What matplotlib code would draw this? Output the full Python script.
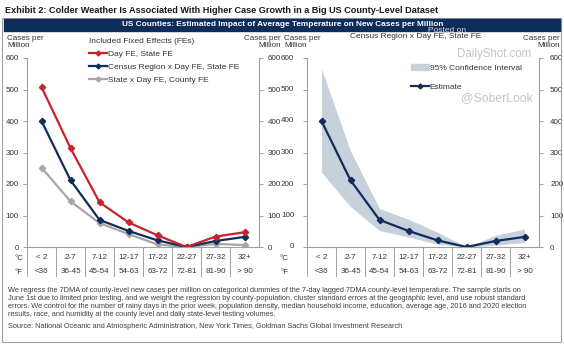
import matplotlib
matplotlib.use("Agg")
import matplotlib.pyplot as plt
from matplotlib import font_manager as fm
from matplotlib.lines import Line2D
from matplotlib.patches import Patch, Rectangle
import matplotlib.transforms as mtransforms

# temperature buckets
cat_c = ["< 2", "2-7", "7-12", "12-17", "17-22", "22-27", "27-32", "32+"]
cat_f = ["<36", "36-45", "45-54", "54-63", "63-72", "72-81", "81-90", "> 90"]

# estimated impact on new cases per million, by fixed-effect specification
day_state = [508, 314, 142, 78, 37, 0, 33, 47]
region_day_state = [400, 212, 86, 51, 21, 0, 19, 32]
state_day_county = [252, 145, 76, 41, 8, 0, 10, 6]

# census region x day FE, state FE: estimate with 95% CI
estimate = [400, 212, 86, 51, 21, 0, 19, 32]
ci_low = [237, 128, 52, 32, 9, 0, 6, 14]
ci_high = [565, 305, 122, 88, 47, 0, 37, 57]

yticks = [0, 100, 200, 300, 400, 500, 600]

RED = "#c8232c"
NAVY = "#0f2d58"
GREY = "#a6a6a6"
BAND = "#c6d1db"
AXC = "#a0a0a0"
TXT = "#333333"

names = {f.name for f in fm.fontManager.ttflist}
BASE = "Liberation Sans" if "Liberation Sans" in names else "DejaVu Sans"
NARROW = "Liberation Sans Narrow" if "Liberation Sans Narrow" in names else BASE
plt.rcParams["font.family"] = [BASE, "DejaVu Sans"]

W, H = 564, 347
fig = plt.figure(figsize=(W / 100, H / 100), dpi=100)


def fx(x):
    return x / W


def fy(y):
    return 1 - y / H


def fit(t, width):
    r = fig.canvas.get_renderer()
    bb = t.get_window_extent(r)
    t.set_fontsize(t.get_fontsize() * width / bb.width)


# outer frame and header
fig.patches.append(Rectangle((fx(2), fy(342)), fx(559), (342 - 18) / H,
                             transform=fig.transFigure, fill=False,
                             edgecolor=AXC, lw=0.8))
fig.patches.append(Rectangle((fx(4), fy(31)), fx(556), 12.5 / H,
                             transform=fig.transFigure, color="#0c2c5a"))
title = fig.text(fx(5), fy(10.5), "Exhibit 2: Colder Weather Is Associated With Higher "
                 "Case Growth in a Big US County-Level Dataset",
                 family=[NARROW, "DejaVu Sans"], weight="bold", fontsize=8,
                 color="#1a1a1a", va="center", ha="left")
fit(title, 432)
banner = fig.text(fx(283), fy(24.8), "US Counties: Estimated Impact of Average "
                  "Temperature on New Cases per Million",
                  family=[NARROW, "DejaVu Sans"], weight="bold", fontsize=6.5,
                  color="white", va="center", ha="center")
fit(banner, 320)

TICK = 5.8
ax1 = fig.add_axes([fx(27), fy(247), 232 / W, 189 / H])
ax2 = fig.add_axes([fx(307), fy(247), 232 / W, 189 / H])
x = list(range(len(cat_c)))

for ax in (ax1, ax2):
    ax.set_xlim(-0.5, 7.5)
    ax.set_ylim(0, 600)
    ax.set_yticks(yticks)
    ax.set_xticks([])
    ax.spines["top"].set_visible(False)
    for s in ("left", "right", "bottom"):
        ax.spines[s].set_color(AXC)
        ax.spines[s].set_linewidth(0.8)
    ax.tick_params(axis="y", direction="out", length=3, width=0.7, color=AXC,
                   labelsize=TICK, labelcolor=TXT, pad=3,
                   left=True, right=True, labelleft=True, labelright=True)
    ax.patch.set_visible(False)
    trans = mtransforms.blended_transform_factory(ax.transData, ax.transAxes)
    for i in range(len(cat_c)):
        ax.plot([i - 0.5, i - 0.5], [0, -0.153], color=AXC, lw=0.7,
                transform=trans, clip_on=False)
        ax.text(i, -0.058, cat_c[i], transform=trans, ha="center",
                va="center", fontsize=TICK, color=TXT)
        ax.text(i, -0.132, cat_f[i], transform=trans, ha="center",
                va="center", fontsize=TICK, color=TXT)

# right panel's left labels sit further out than the tick pad allows
ax2.tick_params(axis="y", labelleft=False, pad=5)
ytr = mtransforms.blended_transform_factory(ax2.transAxes, ax2.transData)
for v in yticks:
    ax2.text(-0.055, v, str(v), transform=ytr, ha="right", va="center",
             fontsize=TICK, color=TXT)

# degree row labels
for xp in (23, 289):
    fig.text(fx(xp), fy(258), "°C", ha="right", va="center", fontsize=TICK, color=TXT)
    fig.text(fx(xp), fy(272), "°F", ha="right", va="center", fontsize=TICK, color=TXT)

# axis unit labels
for xp, ha in ((7, "left"), (281, "right"), (284, "left"), (560, "right")):
    fig.text(fx(xp), fy(42), "Cases per\nMillion", ha=ha, va="center",
             fontsize=TICK, color=TXT, linespacing=1.05, multialignment=ha)

# left panel: three specifications
lines = [
    (day_state, RED, "Day FE, State FE"),
    (region_day_state, NAVY, "Census Region x Day FE, State FE"),
    (state_day_county, GREY, "State x Day FE, County FE"),
]
for vals, col, lab in lines[::-1]:
    ax1.plot(x, vals, color=col, lw=1.6, marker="D", ms=3.2, label=lab)
h1 = [Line2D([], [], color=c, lw=1.6, marker="D", ms=2.5) for _, c, _ in lines]
leg1 = ax1.legend(h1, [l for _, _, l in lines], title="Included Fixed Effects (FEs)",
                  loc="upper left", bbox_to_anchor=(fx(89), fy(38)),
                  bbox_transform=fig.transFigure, frameon=False,
                  fontsize=6, title_fontsize=6, handlelength=2.1,
                  handletextpad=0.15, labelspacing=0.6, borderpad=0,
                  borderaxespad=0, alignment="left")
for t in leg1.get_texts():
    t.set_color(TXT)
leg1.get_title().set_color(TXT)

# right panel: estimate with confidence band
ax2.fill_between(x, ci_low, ci_high, color=BAND, lw=0)
ax2.plot(x, estimate, color=NAVY, lw=1.6, marker="D", ms=3.2)
fig.text(fx(416), fy(36), "Census Region x Day FE, State FE", ha="center",
         va="center", fontsize=6, color=TXT)
h2 = [Patch(color=BAND), Line2D([], [], color=NAVY, lw=1.6, marker="D", ms=2.5)]
leg2 = ax2.legend(h2, ["95% Confidence Interval", "Estimate"], loc="upper left",
                  bbox_to_anchor=(fx(411), fy(64)), bbox_transform=fig.transFigure,
                  frameon=False, fontsize=6, handlelength=2.1,
                  handletextpad=0.15, labelspacing=1.4, borderpad=0,
                  borderaxespad=0)
for t in leg2.get_texts():
    t.set_color(TXT)

# watermarks
fig.text(fx(494), fy(54), "DailyShot.com", ha="center", va="center",
         fontsize=8.3, color="#c4c4c4")
fig.text(fx(497), fy(98), "@SoberLook", ha="center", va="center",
         fontsize=8.8, color="#c4c4c4")
fig.text(fx(447), fy(31), "Posted on", ha="center", va="center",
         fontsize=6, color="#dcdcdc")

# notes
notes = [
    "We regress the 7DMA of county-level new cases per million on categorical dummies of the "
    "7-day lagged 7DMA county-level temperature. The sample starts on",
    "June 1st due to limited prior testing, and we weight the regression by county-population, "
    "cluster standard errors at the geographic level, and use robust standard",
    "errors. We control for the number of rainy days in the prior week, population density, "
    "median household income, education, average age, 2016 and 2020 election",
    "results, race, and humidity at the county level and daily state-level testing volumes.",
]
first = fig.text(fx(8), fy(290), notes[0], ha="left", va="center", fontsize=5,
                 color="#404040", family=[NARROW, "DejaVu Sans"])
fit(first, 530)
fs = first.get_fontsize()
for i, line in enumerate(notes[1:], start=1):
    fig.text(fx(8), fy(290 + 8.2 * i), line, ha="left", va="center", fontsize=fs,
             color="#404040", family=[NARROW, "DejaVu Sans"])
fig.text(fx(8), fy(327), "Source: National Oceanic and Atmospheric Administration, "
         "New York Times, Goldman Sachs Global Investment Research",
         ha="left", va="center", fontsize=fs, color="#404040",
         family=[NARROW, "DejaVu Sans"])

fig.savefig("out.png", dpi=100)
